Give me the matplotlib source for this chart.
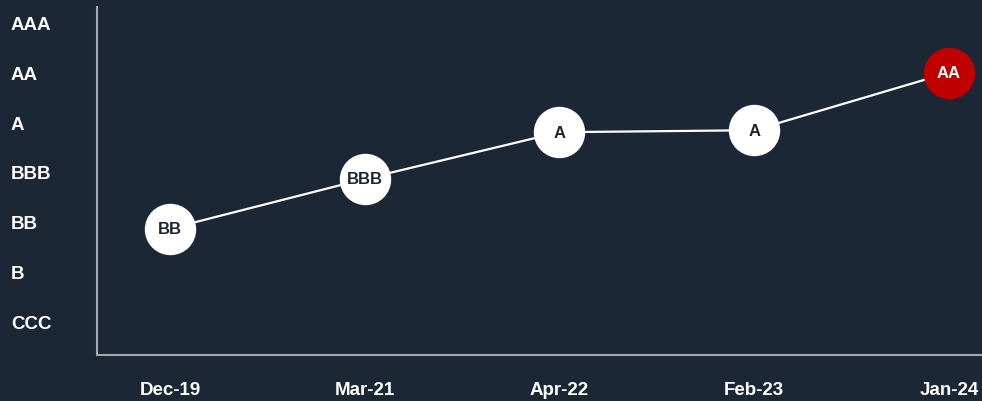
import matplotlib
matplotlib.use("Agg")
import matplotlib.pyplot as plt

# Data
dates = ["Dec-19", "Mar-21", "Apr-22", "Feb-23", "Jan-24"]
ratings = ["BB", "BBB", "A", "A", "AA"]
scores = [2.86, 3.86, 4.80, 4.84, 6.0]     # CCC=1 ... AAA=7
scale_labels = ["CCC", "B", "BB", "BBB", "A", "AA", "AAA"]
highlight = [False, False, False, False, True]

bg = "#1b2735"
navy = "#1b2735"
red = "#c00000"

plt.rcParams['font.family'] = ['Liberation Sans', 'DejaVu Sans']

fig = plt.figure(figsize=(9.82, 4.02), dpi=100, facecolor=bg)
ax = fig.add_axes([97/982, 46/402, 1 - 97/982, 348/402])
ax.set_facecolor(bg)

x = list(range(len(dates)))
ax.plot(x, scores, color="white", lw=1.6, zorder=2)
for i in x:
    fc = red if highlight[i] else "white"
    tc = "white" if highlight[i] else navy
    ax.plot(x[i], scores[i], marker="o", ms=36, mfc=fc, mec=fc, zorder=3)
    ax.text(x[i], scores[i], ratings[i], ha="center", va="center",
            fontsize=12, fontweight="bold", color=tc, zorder=4)

ax.set_xlim(-0.375, 4.17)
ax.set_ylim(0.316, 7.32)

ax.set_xticks(x)
ax.set_xticklabels(dates)
ax.set_yticks(range(1, 8))
ax.set_yticklabels(scale_labels)
ax.tick_params(length=0, colors="white", labelsize=13.5)
ax.tick_params(axis="x", pad=19)
for lab in ax.get_xticklabels() + ax.get_yticklabels():
    lab.set_fontweight("bold")
for lab in ax.get_yticklabels():
    lab.set_horizontalalignment("left")
ax.tick_params(axis="y", pad=62)

for s in ["top", "right"]:
    ax.spines[s].set_visible(False)
for s in ["left", "bottom"]:
    ax.spines[s].set_color("#a6a9ad")
    ax.spines[s].set_linewidth(1.5)

fig.savefig("out.png", dpi=100, facecolor=bg)
